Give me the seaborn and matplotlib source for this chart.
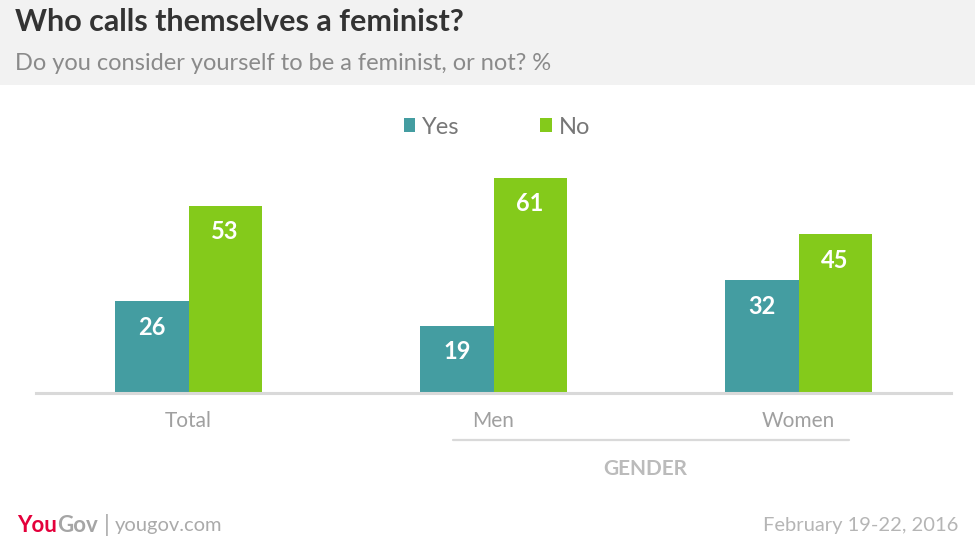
"""Who calls themselves a feminist - YouGov grouped bar chart."""
import matplotlib
matplotlib.use("Agg")
import matplotlib.pyplot as plt
from matplotlib.patches import Rectangle, Patch
from matplotlib.lines import Line2D
import pandas as pd
import seaborn as sns

# data
categories = ["Total", "Men", "Women"]
yes_values = [26, 19, 32]
no_values = [53, 61, 45]
series = ["Yes", "No"]
colors = {"Yes": "#449da1", "No": "#84ca1b"}

df = pd.DataFrame({
    "group": categories * 2,
    "answer": ["Yes"] * len(categories) + ["No"] * len(categories),
    "value": yes_values + no_values,
})

sns.set_theme(style="white")
plt.rcParams["font.family"] = ["Lato", "DejaVu Sans"]

W, H = 975, 548
fig = plt.figure(figsize=(W / 100, H / 100), dpi=100)
fig.patch.set_facecolor("white")

# grey header band
fig.add_artist(Rectangle((0, 1 - 85 / H), 1, 85 / H, transform=fig.transFigure,
                         facecolor="#f2f2f2", edgecolor="none", zorder=0))
fig.text(15 / W, 1 - 22 / H, "Who calls themselves a feminist?", fontsize=22,
         fontweight="bold", color="#333333", va="center", ha="left")
fig.text(15 / W, 1 - 64 / H, "Do you consider yourself to be a feminist, or not? %",
         fontsize=17, color="#8a8a8a", va="center", ha="left")

ax = fig.add_axes([36 / W, (H - 393) / H, 915 / W, 282.4 / H])
sns.barplot(data=df, x="group", y="value", hue="answer", hue_order=series,
            palette=colors, width=0.48, gap=0, saturation=1, linewidth=0,
            ax=ax, legend=False)
ax.set_xlim(-0.5, 2.5)
ax.set_ylim(0, 80)
ax.set_xlabel("")
ax.set_ylabel("")
ax.set_yticks([])
for s in ["top", "left", "right"]:
    ax.spines[s].set_visible(False)
ax.spines["bottom"].set_color("#d9d9d9")
ax.spines["bottom"].set_linewidth(2.2)
ax.spines["bottom"].set_zorder(5)
ax.tick_params(axis="x", length=0, pad=13, labelsize=15, labelcolor="#a0a0a0")

# value labels inside bars
for cont in ax.containers:
    for bar in cont:
        h = bar.get_height()
        ax.annotate(f"{h:.0f}", (bar.get_x() + bar.get_width() / 2, h),
                    xytext=(0, -26), textcoords="offset pixels", ha="center",
                    va="center", color="white", fontsize=17, fontweight="bold")

# legend
handles = [Patch(facecolor=colors[s], edgecolor="none") for s in series]
fig.legend(handles, series, loc="center", bbox_to_anchor=(497 / W, 1 - 127 / H),
           ncol=2, frameon=False, fontsize=17, labelcolor="#777777",
           handlelength=0.5, handleheight=0.5, handletextpad=0.3,
           columnspacing=3.4)

# gender group line and label
fig.add_artist(Line2D([453 / W, 849 / W], [1 - 440 / H] * 2, transform=fig.transFigure,
                      color="#d9d9d9", linewidth=1.6))
fig.text(645 / W, 1 - 469 / H, "GENDER", fontsize=15, fontweight="bold",
         color="#bbbbbb", ha="center", va="center")

# footer
fy = 1 - 525 / H
t1 = fig.text(17 / W, fy, "You", fontsize=16, fontweight="bold", color="#e4003b",
              ha="left", va="center")
fig.canvas.draw()
bb = t1.get_window_extent()
fig.text(bb.x1 / W, fy, "Gov", fontsize=16, fontweight="bold", color="#a5a5a5",
         ha="left", va="center")
fig.text(104 / W, fy, "|", fontsize=17, color="#aaaaaa", ha="left", va="center")
fig.text(115 / W, fy, "yougov.com", fontsize=14.5, color="#aaaaaa", ha="left",
         va="center")
fig.text(958 / W, fy, "February 19-22, 2016", fontsize=14.5, color="#b5b5b5",
         ha="right", va="center")

plt.savefig("out.png", dpi=100)
plt.close()
